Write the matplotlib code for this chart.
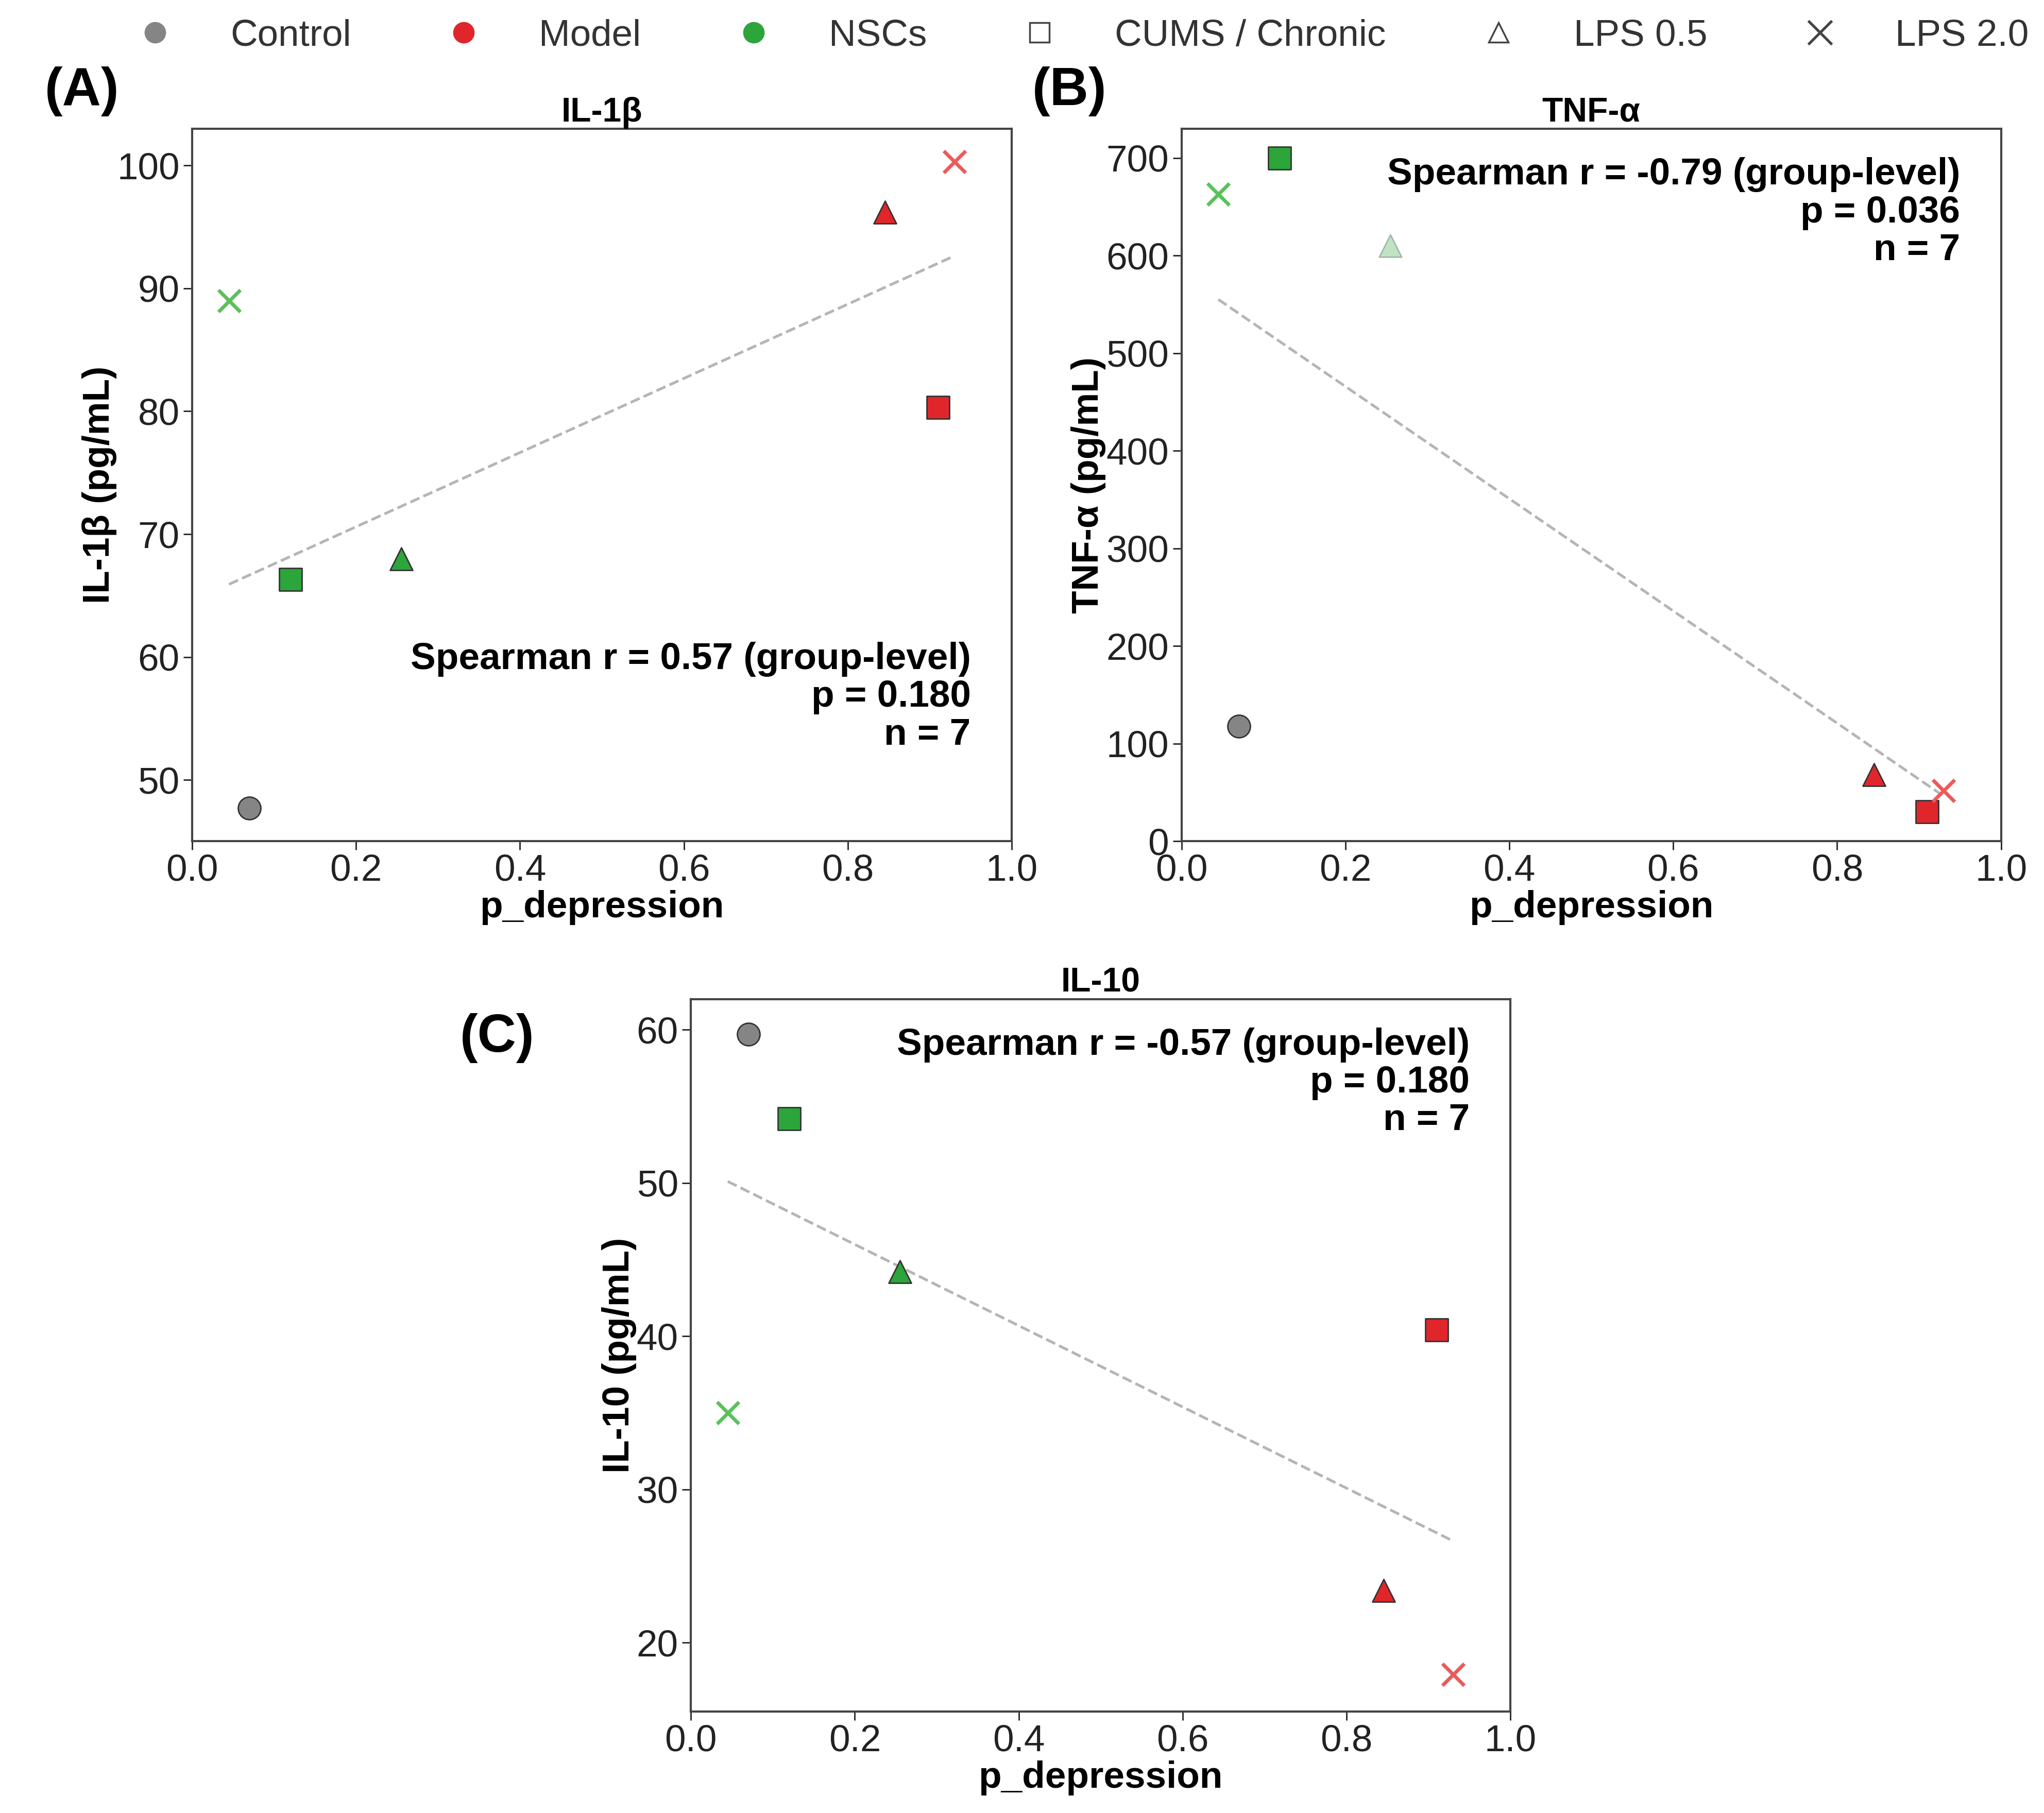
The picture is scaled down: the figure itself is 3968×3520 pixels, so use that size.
import numpy as np
import matplotlib
matplotlib.use('Agg')
import matplotlib.pyplot as plt
from matplotlib.lines import Line2D

# group / protocol for each point
groups = ['Control', 'NSCs', 'NSCs', 'NSCs', 'Model', 'Model', 'Model']
protocols = ['none', 'CUMS', 'LPS0.5', 'LPS2.0', 'CUMS', 'LPS0.5', 'LPS2.0']
p_depression = [0.07, 0.12, 0.255, 0.045, 0.91, 0.845, 0.93]

il1b = [47.7, 66.3, 68.0, 89.0, 80.3, 96.2, 100.3]
tnfa = [118, 700, 610, 663, 30, 68, 52]
il10 = [59.7, 54.2, 44.2, 35.0, 40.4, 23.4, 17.9]

stats = {
    'A': ('0.57', '0.180'),
    'B': ('-0.79', '0.036'),
    'C': ('-0.57', '0.180'),
}

colors = {'Control': '#858585', 'Model': '#e0262a', 'NSCs': '#2ca53a'}
xcolors = {'Model': '#ec5a5a', 'NSCs': '#5cc05c'}
markers = {'none': 'o', 'CUMS': 's', 'LPS0.5': '^', 'LPS2.0': 'x'}

plt.rcParams['font.family'] = ['Liberation Sans', 'DejaVu Sans']
fig = plt.figure(figsize=(15.872, 14.08), dpi=250)


def panel(rect, yvals, title, ylabel, letter, yticks, ylim, stat_pos, faded=None):
    ax = fig.add_axes(rect)
    for i, (x, y) in enumerate(zip(p_depression, yvals)):
        g, pr = groups[i], protocols[i]
        m = markers[pr]
        a = 0.3 if faded == i else 1.0
        if m == 'x':
            ax.scatter(x, y, marker='x', s=150, color=xcolors[g], linewidths=2, zorder=3, alpha=a)
        else:
            ax.scatter(x, y, marker=m, s=160, color=colors[g], edgecolors='#333333',
                       linewidths=0.8, zorder=3, alpha=a)
    k, b = np.polyfit(p_depression, yvals, 1)
    xs = np.array([min(p_depression), max(p_depression)])
    ax.plot(xs, k * xs + b, ls='--', color='#b5b5b5', lw=1.5, zorder=2)
    ax.set_xlim(0, 1)
    ax.set_ylim(*ylim)
    ax.set_xticks(np.arange(0, 1.01, 0.2))
    ax.set_xticklabels([f'{v:.1f}' for v in np.arange(0, 1.01, 0.2)])
    ax.set_yticks(yticks)
    ax.tick_params(labelsize=21, colors='#222222', length=5, pad=2)
    for s in ax.spines.values():
        s.set_color('#444444')
        s.set_linewidth(1.2)
    ax.set_title(title, fontsize=19, fontweight='bold', pad=4)
    ax.set_xlabel('p_depression', fontsize=21, fontweight='bold', labelpad=1)
    ax.set_ylabel(ylabel, fontsize=21, fontweight='bold', labelpad=0)
    r, p = stats[letter]
    ax.text(stat_pos[0], stat_pos[1], f'Spearman r = {r} (group-level)\np = {p}\nn = 7',
            transform=ax.transAxes, ha='right', va='top', fontsize=21, fontweight='bold',
            linespacing=1.1)
    return ax


axA = panel([0.094, 0.536, 0.401, 0.393], il1b, 'IL-1β', 'IL-1β (pg/mL)', 'A',
            [50, 60, 70, 80, 90, 100], (45, 103), (0.95, 0.28))
axB = panel([0.578, 0.536, 0.401, 0.393], tnfa, 'TNF-α', 'TNF-α (pg/mL)', 'B',
            [0, 100, 200, 300, 400, 500, 600, 700], (0, 730), (0.95, 0.96), faded=2)
axC = panel([0.338, 0.056, 0.401, 0.393], il10, 'IL-10', 'IL-10 (pg/mL)', 'C',
            [20, 30, 40, 50, 60], (15.5, 62), (0.95, 0.96))

fig.text(0.022, 0.942, '(A)', fontsize=30, fontweight='bold')
fig.text(0.505, 0.942, '(B)', fontsize=30, fontweight='bold')
fig.text(0.225, 0.42, '(C)', fontsize=30, fontweight='bold')

handles = [
    Line2D([], [], marker='o', ls='', color=colors['Control'], markersize=11),
    Line2D([], [], marker='o', ls='', color=colors['Model'], markersize=11),
    Line2D([], [], marker='o', ls='', color=colors['NSCs'], markersize=11),
    Line2D([], [], marker='s', ls='', mfc='white', mec='#444444', markersize=11),
    Line2D([], [], marker='^', ls='', mfc='white', mec='#444444', markersize=11),
    Line2D([], [], marker='x', ls='', color='#444444', markersize=13, mew=1.5),
]
labels = ['Control', 'Model', 'NSCs', 'CUMS / Chronic', 'LPS 0.5', 'LPS 2.0']
fig.legend(handles, labels, loc='center', bbox_to_anchor=(0.525, 0.98), ncol=6,
           frameon=False, fontsize=21, columnspacing=2.0, handletextpad=1.0,
           labelcolor='#333333')

fig.savefig('out.png', dpi=250, facecolor='white')
